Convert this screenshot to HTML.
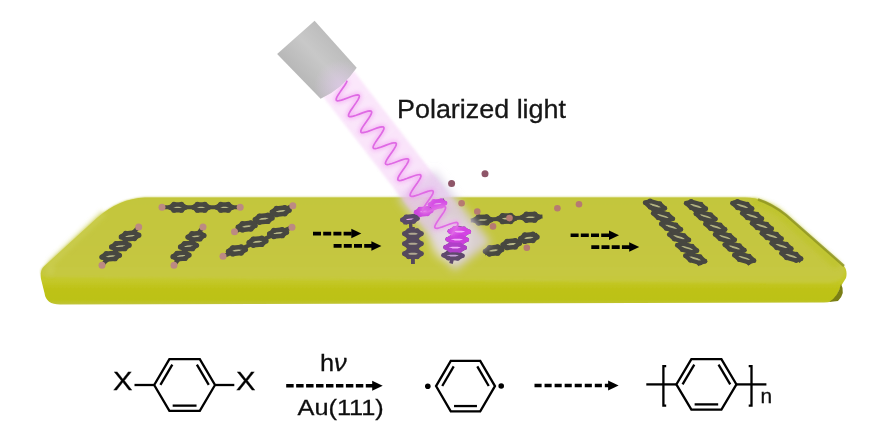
<!DOCTYPE html>
<html><head><meta charset="utf-8"><style>
html,body{margin:0;padding:0;background:#fff;width:886px;height:424px;overflow:hidden;font-family:"Liberation Sans",sans-serif;}
svg{display:block;}
</style></head><body>
<svg width="886" height="424" viewBox="0 0 886 424">
<defs>
<linearGradient id="slabTop" gradientUnits="userSpaceOnUse" x1="0" y1="197" x2="0" y2="283">
<stop offset="0" stop-color="#bdc03a"/>
<stop offset="0.03" stop-color="#c3c63e"/>
<stop offset="0.25" stop-color="#c4c63e"/>
<stop offset="0.65" stop-color="#c5c640"/>
<stop offset="0.85" stop-color="#c6c842"/>
<stop offset="1" stop-color="#c6c93a"/>
</linearGradient>
<linearGradient id="slabFront" gradientUnits="userSpaceOnUse" x1="0" y1="281" x2="0" y2="304">
<stop offset="0" stop-color="#c4c82a"/>
<stop offset="0.35" stop-color="#bec216"/>
<stop offset="0.8" stop-color="#bcc214"/>
<stop offset="1" stop-color="#c0c438"/>
</linearGradient>
<linearGradient id="cyl" gradientUnits="userSpaceOnUse" x1="298.9" y1="76.8" x2="335.6" y2="44.2">
<stop offset="0" stop-color="#b8b8b8"/>
<stop offset="0.55" stop-color="#c8c8c8"/>
<stop offset="1" stop-color="#bdbdbd"/>
</linearGradient>
<radialGradient id="cylGlow" gradientUnits="userSpaceOnUse" cx="340" cy="86" r="26">
<stop offset="0" stop-color="#e0c8ec" stop-opacity="0.7"/>
<stop offset="1" stop-color="#e0c8ec" stop-opacity="0"/>
</radialGradient>
<radialGradient id="glow" cx="0.5" cy="0.5" r="0.5">
<stop offset="0" stop-color="#e4d8ea" stop-opacity="0.95"/>
<stop offset="0.5" stop-color="#dccbe4" stop-opacity="0.6"/>
<stop offset="1" stop-color="#dccbe4" stop-opacity="0"/>
</radialGradient>
<filter id="blur1" x="-5%" y="-20%" width="110%" height="140%"><feGaussianBlur stdDeviation="1.2"/></filter>
<filter id="global" x="0" y="0" width="886" height="424" filterUnits="userSpaceOnUse"><feGaussianBlur stdDeviation="0.45"/></filter>
<filter id="blur1b" x="-10%" y="-20%" width="120%" height="140%"><feGaussianBlur stdDeviation="1.2"/></filter>
<filter id="soft" x="-5%" y="-5%" width="110%" height="110%"><feGaussianBlur stdDeviation="0.45"/></filter>
<filter id="blur2" x="-50%" y="-50%" width="200%" height="200%"><feGaussianBlur stdDeviation="2"/></filter>
<filter id="blur6" x="-50%" y="-50%" width="200%" height="200%"><feGaussianBlur stdDeviation="4.5"/></filter>
<linearGradient id="beamGrad" gradientUnits="userSpaceOnUse" x1="272" y1="0" x2="462" y2="0">
<stop offset="0" stop-color="#f6c4f6" stop-opacity="0.4"/>
<stop offset="0.75" stop-color="#f0c0f2" stop-opacity="0.45"/>
<stop offset="1" stop-color="#e8c0f0" stop-opacity="0"/>
</linearGradient>
</defs>
<rect width="886" height="424" fill="#ffffff"/>
<g filter="url(#global)">
<path d="M145,197.5 L745,197.5 Q766,197.5 786,215 L843,265 Q848,270 846,278 L841,286 L836,297 Q833,302.5 824,302.5 L60,304.5 Q46,304.5 44.5,293 L41,279 Q39.5,271 44,266.5 L97,218 Q119,198.5 145,197.5 Z" fill="url(#slabFront)"/>
<path d="M145,197.5 L745,197.5 Q766,197.5 786,215 L843,265 Q846,272 843,276 Q838,283 826,283 L52,277.5 Q42,277.5 41,273 Q40.5,269 44,266.5 L97,218 Q119,198.5 145,197.5 Z" fill="url(#slabTop)" filter="url(#blur1)"/>
<g filter="url(#blur2)" opacity="0.55"><path d="M752,202 Q772,205 784,217 L838,266" stroke="#bcc320" stroke-width="8" fill="none"/><path d="M104,213 L52,262 Q48,268 52,274" stroke="#cdd056" stroke-width="7" fill="none"/></g>
<path d="M758,199.5 Q772,204 786,215 L844,266" stroke="#8c9222" stroke-width="2.4" fill="none" opacity="0.8"/>
<path d="M841,284 Q838,297 829,302 L838,301 Q846,293 841,284Z" fill="#7a7e12"/>
<g filter="url(#soft)"><line x1="162.00" y1="207.30" x2="240.20" y2="207.30" stroke="#474741" stroke-width="4.05"/>
<path d="M170.20,207.30 L173.95,204.40 L181.45,204.40 L185.20,207.30 L181.45,210.20 L173.95,210.20Z" fill="#b8b888" stroke="#474741" stroke-width="4.5" stroke-linejoin="round"/><circle cx="170.20" cy="207.30" r="2.61" fill="#474741"/><circle cx="173.95" cy="204.40" r="2.61" fill="#474741"/><circle cx="181.45" cy="204.40" r="2.61" fill="#474741"/><circle cx="185.20" cy="207.30" r="2.61" fill="#474741"/><circle cx="181.45" cy="210.20" r="2.61" fill="#474741"/><circle cx="173.95" cy="210.20" r="2.61" fill="#474741"/>
<path d="M193.60,207.30 L197.35,204.40 L204.85,204.40 L208.60,207.30 L204.85,210.20 L197.35,210.20Z" fill="#b8b888" stroke="#474741" stroke-width="4.5" stroke-linejoin="round"/><circle cx="193.60" cy="207.30" r="2.61" fill="#474741"/><circle cx="197.35" cy="204.40" r="2.61" fill="#474741"/><circle cx="204.85" cy="204.40" r="2.61" fill="#474741"/><circle cx="208.60" cy="207.30" r="2.61" fill="#474741"/><circle cx="204.85" cy="210.20" r="2.61" fill="#474741"/><circle cx="197.35" cy="210.20" r="2.61" fill="#474741"/>
<path d="M217.00,207.30 L220.75,204.40 L228.25,204.40 L232.00,207.30 L228.25,210.20 L220.75,210.20Z" fill="#b8b888" stroke="#474741" stroke-width="4.5" stroke-linejoin="round"/><circle cx="217.00" cy="207.30" r="2.61" fill="#474741"/><circle cx="220.75" cy="204.40" r="2.61" fill="#474741"/><circle cx="228.25" cy="204.40" r="2.61" fill="#474741"/><circle cx="232.00" cy="207.30" r="2.61" fill="#474741"/><circle cx="228.25" cy="210.20" r="2.61" fill="#474741"/><circle cx="220.75" cy="210.20" r="2.61" fill="#474741"/>
<circle cx="162.00" cy="207.30" r="3.5" fill="#bc8a82"/>
<circle cx="240.20" cy="207.30" r="3.5" fill="#bc8a82"/>
<line x1="234.50" y1="231.80" x2="292.80" y2="205.70" stroke="#474741" stroke-width="4.05"/>
<path d="M238.15,227.21 L242.40,223.69 L250.90,222.84 L255.15,225.51 L250.90,229.04 L242.40,229.89Z" fill="#b8b888" stroke="#474741" stroke-width="4.5" stroke-linejoin="round"/><circle cx="238.15" cy="227.21" r="2.61" fill="#474741"/><circle cx="242.40" cy="223.69" r="2.61" fill="#474741"/><circle cx="250.90" cy="222.84" r="2.61" fill="#474741"/><circle cx="255.15" cy="225.51" r="2.61" fill="#474741"/><circle cx="250.90" cy="229.04" r="2.61" fill="#474741"/><circle cx="242.40" cy="229.89" r="2.61" fill="#474741"/>
<path d="M255.15,219.60 L259.40,216.08 L267.90,215.22 L272.15,217.90 L267.90,221.42 L259.40,222.28Z" fill="#b8b888" stroke="#474741" stroke-width="4.5" stroke-linejoin="round"/><circle cx="255.15" cy="219.60" r="2.61" fill="#474741"/><circle cx="259.40" cy="216.08" r="2.61" fill="#474741"/><circle cx="267.90" cy="215.22" r="2.61" fill="#474741"/><circle cx="272.15" cy="217.90" r="2.61" fill="#474741"/><circle cx="267.90" cy="221.42" r="2.61" fill="#474741"/><circle cx="259.40" cy="222.28" r="2.61" fill="#474741"/>
<path d="M272.15,211.99 L276.40,208.46 L284.90,207.61 L289.15,210.29 L284.90,213.81 L276.40,214.66Z" fill="#b8b888" stroke="#474741" stroke-width="4.5" stroke-linejoin="round"/><circle cx="272.15" cy="211.99" r="2.61" fill="#474741"/><circle cx="276.40" cy="208.46" r="2.61" fill="#474741"/><circle cx="284.90" cy="207.61" r="2.61" fill="#474741"/><circle cx="289.15" cy="210.29" r="2.61" fill="#474741"/><circle cx="284.90" cy="213.81" r="2.61" fill="#474741"/><circle cx="276.40" cy="214.66" r="2.61" fill="#474741"/>
<circle cx="234.50" cy="231.80" r="3.5" fill="#bc8a82"/>
<circle cx="292.80" cy="205.70" r="3.5" fill="#bc8a82"/>
<line x1="223.00" y1="256.30" x2="292.00" y2="227.20" stroke="#474741" stroke-width="4.05"/>
<path d="M228.46,251.26 L232.71,247.74 L241.21,246.89 L245.46,249.56 L241.21,253.09 L232.71,253.94Z" fill="#b8b888" stroke="#474741" stroke-width="4.5" stroke-linejoin="round"/><circle cx="228.46" cy="251.26" r="2.61" fill="#474741"/><circle cx="232.71" cy="247.74" r="2.61" fill="#474741"/><circle cx="241.21" cy="246.89" r="2.61" fill="#474741"/><circle cx="245.46" cy="249.56" r="2.61" fill="#474741"/><circle cx="241.21" cy="253.09" r="2.61" fill="#474741"/><circle cx="232.71" cy="253.94" r="2.61" fill="#474741"/>
<path d="M249.00,242.60 L253.25,239.08 L261.75,238.22 L266.00,240.90 L261.75,244.42 L253.25,245.28Z" fill="#b8b888" stroke="#474741" stroke-width="4.5" stroke-linejoin="round"/><circle cx="249.00" cy="242.60" r="2.61" fill="#474741"/><circle cx="253.25" cy="239.08" r="2.61" fill="#474741"/><circle cx="261.75" cy="238.22" r="2.61" fill="#474741"/><circle cx="266.00" cy="240.90" r="2.61" fill="#474741"/><circle cx="261.75" cy="244.42" r="2.61" fill="#474741"/><circle cx="253.25" cy="245.28" r="2.61" fill="#474741"/>
<path d="M269.54,233.94 L273.79,230.41 L282.29,229.56 L286.54,232.24 L282.29,235.76 L273.79,236.61Z" fill="#b8b888" stroke="#474741" stroke-width="4.5" stroke-linejoin="round"/><circle cx="269.54" cy="233.94" r="2.61" fill="#474741"/><circle cx="273.79" cy="230.41" r="2.61" fill="#474741"/><circle cx="282.29" cy="229.56" r="2.61" fill="#474741"/><circle cx="286.54" cy="232.24" r="2.61" fill="#474741"/><circle cx="282.29" cy="235.76" r="2.61" fill="#474741"/><circle cx="273.79" cy="236.61" r="2.61" fill="#474741"/>
<circle cx="223.00" cy="256.30" r="3.5" fill="#bc8a82"/>
<circle cx="292.00" cy="227.20" r="3.5" fill="#bc8a82"/>
<line x1="102.00" y1="265.20" x2="138.70" y2="227.00" stroke="#474741" stroke-width="4.05"/>
<path d="M101.91,257.06 L106.28,253.63 L115.03,252.75 L119.41,255.31 L115.03,258.75 L106.28,259.63Z" fill="#b8b888" stroke="#474741" stroke-width="4.5" stroke-linejoin="round"/><circle cx="101.91" cy="257.06" r="2.61" fill="#474741"/><circle cx="106.28" cy="253.63" r="2.61" fill="#474741"/><circle cx="115.03" cy="252.75" r="2.61" fill="#474741"/><circle cx="119.41" cy="255.31" r="2.61" fill="#474741"/><circle cx="115.03" cy="258.75" r="2.61" fill="#474741"/><circle cx="106.28" cy="259.63" r="2.61" fill="#474741"/>
<path d="M111.60,246.97 L115.97,243.54 L124.72,242.66 L129.10,245.22 L124.72,248.66 L115.97,249.54Z" fill="#b8b888" stroke="#474741" stroke-width="4.5" stroke-linejoin="round"/><circle cx="111.60" cy="246.97" r="2.61" fill="#474741"/><circle cx="115.97" cy="243.54" r="2.61" fill="#474741"/><circle cx="124.72" cy="242.66" r="2.61" fill="#474741"/><circle cx="129.10" cy="245.22" r="2.61" fill="#474741"/><circle cx="124.72" cy="248.66" r="2.61" fill="#474741"/><circle cx="115.97" cy="249.54" r="2.61" fill="#474741"/>
<path d="M121.29,236.89 L125.67,233.45 L134.42,232.57 L138.79,235.14 L134.42,238.57 L125.67,239.45Z" fill="#b8b888" stroke="#474741" stroke-width="4.5" stroke-linejoin="round"/><circle cx="121.29" cy="236.89" r="2.61" fill="#474741"/><circle cx="125.67" cy="233.45" r="2.61" fill="#474741"/><circle cx="134.42" cy="232.57" r="2.61" fill="#474741"/><circle cx="138.79" cy="235.14" r="2.61" fill="#474741"/><circle cx="134.42" cy="238.57" r="2.61" fill="#474741"/><circle cx="125.67" cy="239.45" r="2.61" fill="#474741"/>
<circle cx="102.00" cy="265.20" r="3.5" fill="#bc8a82"/>
<circle cx="138.70" cy="227.00" r="3.5" fill="#bc8a82"/>
<line x1="174.00" y1="265.20" x2="203.00" y2="227.00" stroke="#474741" stroke-width="4.05"/>
<path d="M173.05,256.71 L177.05,253.31 L185.05,252.51 L189.05,255.11 L185.05,258.51 L177.05,259.31Z" fill="#b8b888" stroke="#474741" stroke-width="4.5" stroke-linejoin="round"/><circle cx="173.05" cy="256.71" r="2.61" fill="#474741"/><circle cx="177.05" cy="253.31" r="2.61" fill="#474741"/><circle cx="185.05" cy="252.51" r="2.61" fill="#474741"/><circle cx="189.05" cy="255.11" r="2.61" fill="#474741"/><circle cx="185.05" cy="258.51" r="2.61" fill="#474741"/><circle cx="177.05" cy="259.31" r="2.61" fill="#474741"/>
<path d="M180.50,246.90 L184.50,243.50 L192.50,242.70 L196.50,245.30 L192.50,248.70 L184.50,249.50Z" fill="#b8b888" stroke="#474741" stroke-width="4.5" stroke-linejoin="round"/><circle cx="180.50" cy="246.90" r="2.61" fill="#474741"/><circle cx="184.50" cy="243.50" r="2.61" fill="#474741"/><circle cx="192.50" cy="242.70" r="2.61" fill="#474741"/><circle cx="196.50" cy="245.30" r="2.61" fill="#474741"/><circle cx="192.50" cy="248.70" r="2.61" fill="#474741"/><circle cx="184.50" cy="249.50" r="2.61" fill="#474741"/>
<path d="M187.95,237.09 L191.95,233.69 L199.95,232.89 L203.95,235.49 L199.95,238.89 L191.95,239.69Z" fill="#b8b888" stroke="#474741" stroke-width="4.5" stroke-linejoin="round"/><circle cx="187.95" cy="237.09" r="2.61" fill="#474741"/><circle cx="191.95" cy="233.69" r="2.61" fill="#474741"/><circle cx="199.95" cy="232.89" r="2.61" fill="#474741"/><circle cx="203.95" cy="235.49" r="2.61" fill="#474741"/><circle cx="199.95" cy="238.89" r="2.61" fill="#474741"/><circle cx="191.95" cy="239.69" r="2.61" fill="#474741"/>
<circle cx="174.00" cy="265.20" r="3.5" fill="#bc8a82"/>
<circle cx="203.00" cy="227.00" r="3.5" fill="#bc8a82"/>
<line x1="470.70" y1="220.60" x2="542.50" y2="216.50" stroke="#474741" stroke-width="4.05"/>
<path d="M474.42,220.06 L478.54,216.89 L486.79,216.75 L490.92,219.78 L486.79,222.95 L478.54,223.09Z" fill="#b8b888" stroke="#474741" stroke-width="4.5" stroke-linejoin="round"/><circle cx="474.42" cy="220.06" r="2.61" fill="#474741"/><circle cx="478.54" cy="216.89" r="2.61" fill="#474741"/><circle cx="486.79" cy="216.75" r="2.61" fill="#474741"/><circle cx="490.92" cy="219.78" r="2.61" fill="#474741"/><circle cx="486.79" cy="222.95" r="2.61" fill="#474741"/><circle cx="478.54" cy="223.09" r="2.61" fill="#474741"/>
<path d="M498.35,218.69 L502.48,215.52 L510.73,215.38 L514.85,218.41 L510.73,221.58 L502.48,221.72Z" fill="#b8b888" stroke="#474741" stroke-width="4.5" stroke-linejoin="round"/><circle cx="498.35" cy="218.69" r="2.61" fill="#474741"/><circle cx="502.48" cy="215.52" r="2.61" fill="#474741"/><circle cx="510.73" cy="215.38" r="2.61" fill="#474741"/><circle cx="514.85" cy="218.41" r="2.61" fill="#474741"/><circle cx="510.73" cy="221.58" r="2.61" fill="#474741"/><circle cx="502.48" cy="221.72" r="2.61" fill="#474741"/>
<path d="M522.28,217.32 L526.41,214.15 L534.66,214.01 L538.78,217.04 L534.66,220.21 L526.41,220.35Z" fill="#b8b888" stroke="#474741" stroke-width="4.5" stroke-linejoin="round"/><circle cx="522.28" cy="217.32" r="2.61" fill="#474741"/><circle cx="526.41" cy="214.15" r="2.61" fill="#474741"/><circle cx="534.66" cy="214.01" r="2.61" fill="#474741"/><circle cx="538.78" cy="217.04" r="2.61" fill="#474741"/><circle cx="534.66" cy="220.21" r="2.61" fill="#474741"/><circle cx="526.41" cy="220.35" r="2.61" fill="#474741"/>
<line x1="484.80" y1="253.60" x2="537.60" y2="234.60" stroke="#474741" stroke-width="4.05"/>
<path d="M485.35,251.26 L489.48,247.65 L497.73,246.82 L501.85,249.61 L497.73,253.22 L489.48,254.05Z" fill="#b8b888" stroke="#474741" stroke-width="4.5" stroke-linejoin="round"/><circle cx="485.35" cy="251.26" r="2.61" fill="#474741"/><circle cx="489.48" cy="247.65" r="2.61" fill="#474741"/><circle cx="497.73" cy="246.82" r="2.61" fill="#474741"/><circle cx="501.85" cy="249.61" r="2.61" fill="#474741"/><circle cx="497.73" cy="253.22" r="2.61" fill="#474741"/><circle cx="489.48" cy="254.05" r="2.61" fill="#474741"/>
<path d="M502.95,244.92 L507.08,241.31 L515.33,240.49 L519.45,243.28 L515.33,246.89 L507.08,247.71Z" fill="#b8b888" stroke="#474741" stroke-width="4.5" stroke-linejoin="round"/><circle cx="502.95" cy="244.92" r="2.61" fill="#474741"/><circle cx="507.08" cy="241.31" r="2.61" fill="#474741"/><circle cx="515.33" cy="240.49" r="2.61" fill="#474741"/><circle cx="519.45" cy="243.28" r="2.61" fill="#474741"/><circle cx="515.33" cy="246.89" r="2.61" fill="#474741"/><circle cx="507.08" cy="247.71" r="2.61" fill="#474741"/>
<path d="M520.55,238.59 L524.68,234.98 L532.93,234.15 L537.05,236.94 L532.93,240.55 L524.68,241.38Z" fill="#b8b888" stroke="#474741" stroke-width="4.5" stroke-linejoin="round"/><circle cx="520.55" cy="238.59" r="2.61" fill="#474741"/><circle cx="524.68" cy="234.98" r="2.61" fill="#474741"/><circle cx="532.93" cy="234.15" r="2.61" fill="#474741"/><circle cx="537.05" cy="236.94" r="2.61" fill="#474741"/><circle cx="532.93" cy="240.55" r="2.61" fill="#474741"/><circle cx="524.68" cy="241.38" r="2.61" fill="#474741"/>
<line x1="646.00" y1="201.50" x2="700.00" y2="265.00" stroke="#474741" stroke-width="3.78"/>
<path d="M645.25,202.77 L650.12,201.03 L659.88,203.77 L664.75,208.23 L659.88,209.97 L650.12,207.23Z" fill="#b2b282" stroke="#474741" stroke-width="4.2" stroke-linejoin="round"/><circle cx="645.25" cy="202.77" r="2.44" fill="#474741"/><circle cx="650.12" cy="201.03" r="2.44" fill="#474741"/><circle cx="659.88" cy="203.77" r="2.44" fill="#474741"/><circle cx="664.75" cy="208.23" r="2.44" fill="#474741"/><circle cx="659.88" cy="209.97" r="2.44" fill="#474741"/><circle cx="650.12" cy="207.23" r="2.44" fill="#474741"/>
<path d="M653.29,213.37 L658.16,211.63 L667.91,214.37 L672.79,218.83 L667.91,220.56 L658.16,217.83Z" fill="#b2b282" stroke="#474741" stroke-width="4.2" stroke-linejoin="round"/><circle cx="653.29" cy="213.37" r="2.44" fill="#474741"/><circle cx="658.16" cy="211.63" r="2.44" fill="#474741"/><circle cx="667.91" cy="214.37" r="2.44" fill="#474741"/><circle cx="672.79" cy="218.83" r="2.44" fill="#474741"/><circle cx="667.91" cy="220.56" r="2.44" fill="#474741"/><circle cx="658.16" cy="217.83" r="2.44" fill="#474741"/>
<path d="M661.33,223.97 L666.21,222.23 L675.96,224.97 L680.83,229.43 L675.96,231.16 L666.21,228.43Z" fill="#b2b282" stroke="#474741" stroke-width="4.2" stroke-linejoin="round"/><circle cx="661.33" cy="223.97" r="2.44" fill="#474741"/><circle cx="666.21" cy="222.23" r="2.44" fill="#474741"/><circle cx="675.96" cy="224.97" r="2.44" fill="#474741"/><circle cx="680.83" cy="229.43" r="2.44" fill="#474741"/><circle cx="675.96" cy="231.16" r="2.44" fill="#474741"/><circle cx="666.21" cy="228.43" r="2.44" fill="#474741"/>
<path d="M669.37,234.57 L674.25,232.84 L684.00,235.57 L688.87,240.03 L684.00,241.77 L674.25,239.03Z" fill="#b2b282" stroke="#474741" stroke-width="4.2" stroke-linejoin="round"/><circle cx="669.37" cy="234.57" r="2.44" fill="#474741"/><circle cx="674.25" cy="232.84" r="2.44" fill="#474741"/><circle cx="684.00" cy="235.57" r="2.44" fill="#474741"/><circle cx="688.87" cy="240.03" r="2.44" fill="#474741"/><circle cx="684.00" cy="241.77" r="2.44" fill="#474741"/><circle cx="674.25" cy="239.03" r="2.44" fill="#474741"/>
<path d="M677.41,245.17 L682.29,243.44 L692.04,246.17 L696.91,250.63 L692.04,252.37 L682.29,249.63Z" fill="#b2b282" stroke="#474741" stroke-width="4.2" stroke-linejoin="round"/><circle cx="677.41" cy="245.17" r="2.44" fill="#474741"/><circle cx="682.29" cy="243.44" r="2.44" fill="#474741"/><circle cx="692.04" cy="246.17" r="2.44" fill="#474741"/><circle cx="696.91" cy="250.63" r="2.44" fill="#474741"/><circle cx="692.04" cy="252.37" r="2.44" fill="#474741"/><circle cx="682.29" cy="249.63" r="2.44" fill="#474741"/>
<path d="M685.45,255.77 L690.33,254.03 L700.08,256.76 L704.95,261.23 L700.08,262.97 L690.33,260.24Z" fill="#b2b282" stroke="#474741" stroke-width="4.2" stroke-linejoin="round"/><circle cx="685.45" cy="255.77" r="2.44" fill="#474741"/><circle cx="690.33" cy="254.03" r="2.44" fill="#474741"/><circle cx="700.08" cy="256.76" r="2.44" fill="#474741"/><circle cx="704.95" cy="261.23" r="2.44" fill="#474741"/><circle cx="700.08" cy="262.97" r="2.44" fill="#474741"/><circle cx="690.33" cy="260.24" r="2.44" fill="#474741"/>
<line x1="686.60" y1="202.30" x2="749.80" y2="264.50" stroke="#474741" stroke-width="3.78"/>
<path d="M686.25,203.27 L691.12,201.53 L700.88,204.27 L705.75,208.73 L700.88,210.47 L691.12,207.73Z" fill="#b2b282" stroke="#474741" stroke-width="4.2" stroke-linejoin="round"/><circle cx="686.25" cy="203.27" r="2.44" fill="#474741"/><circle cx="691.12" cy="201.53" r="2.44" fill="#474741"/><circle cx="700.88" cy="204.27" r="2.44" fill="#474741"/><circle cx="705.75" cy="208.73" r="2.44" fill="#474741"/><circle cx="700.88" cy="210.47" r="2.44" fill="#474741"/><circle cx="691.12" cy="207.73" r="2.44" fill="#474741"/>
<path d="M695.89,213.65 L700.76,211.91 L710.51,214.65 L715.39,219.11 L710.51,220.84 L700.76,218.11Z" fill="#b2b282" stroke="#474741" stroke-width="4.2" stroke-linejoin="round"/><circle cx="695.89" cy="213.65" r="2.44" fill="#474741"/><circle cx="700.76" cy="211.91" r="2.44" fill="#474741"/><circle cx="710.51" cy="214.65" r="2.44" fill="#474741"/><circle cx="715.39" cy="219.11" r="2.44" fill="#474741"/><circle cx="710.51" cy="220.84" r="2.44" fill="#474741"/><circle cx="700.76" cy="218.11" r="2.44" fill="#474741"/>
<path d="M705.53,224.03 L710.40,222.29 L720.15,225.03 L725.03,229.49 L720.15,231.22 L710.40,228.49Z" fill="#b2b282" stroke="#474741" stroke-width="4.2" stroke-linejoin="round"/><circle cx="705.53" cy="224.03" r="2.44" fill="#474741"/><circle cx="710.40" cy="222.29" r="2.44" fill="#474741"/><circle cx="720.15" cy="225.03" r="2.44" fill="#474741"/><circle cx="725.03" cy="229.49" r="2.44" fill="#474741"/><circle cx="720.15" cy="231.22" r="2.44" fill="#474741"/><circle cx="710.40" cy="228.49" r="2.44" fill="#474741"/>
<path d="M715.17,234.41 L720.05,232.67 L729.80,235.41 L734.67,239.87 L729.80,241.60 L720.05,238.87Z" fill="#b2b282" stroke="#474741" stroke-width="4.2" stroke-linejoin="round"/><circle cx="715.17" cy="234.41" r="2.44" fill="#474741"/><circle cx="720.05" cy="232.67" r="2.44" fill="#474741"/><circle cx="729.80" cy="235.41" r="2.44" fill="#474741"/><circle cx="734.67" cy="239.87" r="2.44" fill="#474741"/><circle cx="729.80" cy="241.60" r="2.44" fill="#474741"/><circle cx="720.05" cy="238.87" r="2.44" fill="#474741"/>
<path d="M724.81,244.79 L729.69,243.05 L739.44,245.78 L744.31,250.25 L739.44,251.98 L729.69,249.25Z" fill="#b2b282" stroke="#474741" stroke-width="4.2" stroke-linejoin="round"/><circle cx="724.81" cy="244.79" r="2.44" fill="#474741"/><circle cx="729.69" cy="243.05" r="2.44" fill="#474741"/><circle cx="739.44" cy="245.78" r="2.44" fill="#474741"/><circle cx="744.31" cy="250.25" r="2.44" fill="#474741"/><circle cx="739.44" cy="251.98" r="2.44" fill="#474741"/><circle cx="729.69" cy="249.25" r="2.44" fill="#474741"/>
<path d="M734.45,255.17 L739.33,253.43 L749.08,256.16 L753.95,260.63 L749.08,262.37 L739.33,259.63Z" fill="#b2b282" stroke="#474741" stroke-width="4.2" stroke-linejoin="round"/><circle cx="734.45" cy="255.17" r="2.44" fill="#474741"/><circle cx="739.33" cy="253.43" r="2.44" fill="#474741"/><circle cx="749.08" cy="256.16" r="2.44" fill="#474741"/><circle cx="753.95" cy="260.63" r="2.44" fill="#474741"/><circle cx="749.08" cy="262.37" r="2.44" fill="#474741"/><circle cx="739.33" cy="259.63" r="2.44" fill="#474741"/>
<line x1="732.80" y1="201.30" x2="800.80" y2="261.70" stroke="#474741" stroke-width="3.78"/>
<path d="M732.55,203.27 L737.42,201.53 L747.17,204.27 L752.05,208.73 L747.17,210.47 L737.42,207.73Z" fill="#b2b282" stroke="#474741" stroke-width="4.2" stroke-linejoin="round"/><circle cx="732.55" cy="203.27" r="2.44" fill="#474741"/><circle cx="737.42" cy="201.53" r="2.44" fill="#474741"/><circle cx="747.17" cy="204.27" r="2.44" fill="#474741"/><circle cx="752.05" cy="208.73" r="2.44" fill="#474741"/><circle cx="747.17" cy="210.47" r="2.44" fill="#474741"/><circle cx="737.42" cy="207.73" r="2.44" fill="#474741"/>
<path d="M742.35,213.27 L747.22,211.53 L756.97,214.27 L761.85,218.73 L756.97,220.47 L747.22,217.73Z" fill="#b2b282" stroke="#474741" stroke-width="4.2" stroke-linejoin="round"/><circle cx="742.35" cy="213.27" r="2.44" fill="#474741"/><circle cx="747.22" cy="211.53" r="2.44" fill="#474741"/><circle cx="756.97" cy="214.27" r="2.44" fill="#474741"/><circle cx="761.85" cy="218.73" r="2.44" fill="#474741"/><circle cx="756.97" cy="220.47" r="2.44" fill="#474741"/><circle cx="747.22" cy="217.73" r="2.44" fill="#474741"/>
<path d="M752.15,223.27 L757.02,221.53 L766.77,224.27 L771.65,228.73 L766.77,230.47 L757.02,227.73Z" fill="#b2b282" stroke="#474741" stroke-width="4.2" stroke-linejoin="round"/><circle cx="752.15" cy="223.27" r="2.44" fill="#474741"/><circle cx="757.02" cy="221.53" r="2.44" fill="#474741"/><circle cx="766.77" cy="224.27" r="2.44" fill="#474741"/><circle cx="771.65" cy="228.73" r="2.44" fill="#474741"/><circle cx="766.77" cy="230.47" r="2.44" fill="#474741"/><circle cx="757.02" cy="227.73" r="2.44" fill="#474741"/>
<path d="M761.95,233.27 L766.82,231.53 L776.57,234.27 L781.45,238.73 L776.57,240.47 L766.82,237.73Z" fill="#b2b282" stroke="#474741" stroke-width="4.2" stroke-linejoin="round"/><circle cx="761.95" cy="233.27" r="2.44" fill="#474741"/><circle cx="766.82" cy="231.53" r="2.44" fill="#474741"/><circle cx="776.57" cy="234.27" r="2.44" fill="#474741"/><circle cx="781.45" cy="238.73" r="2.44" fill="#474741"/><circle cx="776.57" cy="240.47" r="2.44" fill="#474741"/><circle cx="766.82" cy="237.73" r="2.44" fill="#474741"/>
<path d="M771.75,243.27 L776.62,241.53 L786.38,244.27 L791.25,248.73 L786.38,250.47 L776.62,247.73Z" fill="#b2b282" stroke="#474741" stroke-width="4.2" stroke-linejoin="round"/><circle cx="771.75" cy="243.27" r="2.44" fill="#474741"/><circle cx="776.62" cy="241.53" r="2.44" fill="#474741"/><circle cx="786.38" cy="244.27" r="2.44" fill="#474741"/><circle cx="791.25" cy="248.73" r="2.44" fill="#474741"/><circle cx="786.38" cy="250.47" r="2.44" fill="#474741"/><circle cx="776.62" cy="247.73" r="2.44" fill="#474741"/>
<path d="M781.55,253.27 L786.42,251.53 L796.17,254.27 L801.05,258.73 L796.17,260.47 L786.42,257.74Z" fill="#b2b282" stroke="#474741" stroke-width="4.2" stroke-linejoin="round"/><circle cx="781.55" cy="253.27" r="2.44" fill="#474741"/><circle cx="786.42" cy="251.53" r="2.44" fill="#474741"/><circle cx="796.17" cy="254.27" r="2.44" fill="#474741"/><circle cx="801.05" cy="258.73" r="2.44" fill="#474741"/><circle cx="796.17" cy="260.47" r="2.44" fill="#474741"/><circle cx="786.42" cy="257.74" r="2.44" fill="#474741"/></g>
<line x1="313" y1="233.6" x2="352.3" y2="233.6" stroke="#000" stroke-width="3.6" stroke-dasharray="8 2.2"/><path d="M351.3,228.85 L361.3,233.6 L351.3,238.35Z" fill="#000"/>
<line x1="333.6" y1="245.9" x2="372.4" y2="245.9" stroke="#000" stroke-width="3.6" stroke-dasharray="8 2.2"/><path d="M371.4,241.15 L381.4,245.9 L371.4,250.65Z" fill="#000"/>
<line x1="570.6" y1="235.3" x2="610" y2="235.3" stroke="#000" stroke-width="3.6" stroke-dasharray="8 2.2"/><path d="M609,230.55 L619,235.3 L609,240.05Z" fill="#000"/>
<line x1="591.3" y1="247.1" x2="630.2" y2="247.1" stroke="#000" stroke-width="3.6" stroke-dasharray="8 2.2"/><path d="M629.2,242.35 L639.2,247.1 L629.2,251.85Z" fill="#000"/>
<g filter="url(#blur6)">
<g transform="rotate(52.3)"><rect x="400" y="-240" width="92" height="46" fill="#dcd0e6" opacity="0.85"/></g>
<ellipse cx="450" cy="240" rx="20" ry="22" fill="#ece2f0" opacity="0.6"/>
</g>
<g transform="rotate(52.3)">
<rect x="272" y="-236.5" width="190" height="40" fill="url(#beamGrad)" filter="url(#blur1b)"/>
</g>
<g><line x1="403.00" y1="223.00" x2="444.40" y2="200.00" stroke="#5a4a68" stroke-width="3.78"/>
<path d="M402.40,219.92 L406.15,216.84 L413.65,216.09 L417.40,218.42 L413.65,221.49 L406.15,222.24Z" fill="#e8a8f0" stroke="#5a4a68" stroke-width="4.2" stroke-linejoin="round"/><circle cx="402.40" cy="219.92" r="2.44" fill="#5a4a68"/><circle cx="406.15" cy="216.84" r="2.44" fill="#5a4a68"/><circle cx="413.65" cy="216.09" r="2.44" fill="#5a4a68"/><circle cx="417.40" cy="218.42" r="2.44" fill="#5a4a68"/><circle cx="413.65" cy="221.49" r="2.44" fill="#5a4a68"/><circle cx="406.15" cy="222.24" r="2.44" fill="#5a4a68"/>
<path d="M416.20,212.25 L419.95,209.18 L427.45,208.43 L431.20,210.75 L427.45,213.82 L419.95,214.57Z" fill="#e8a8f0" stroke="#cc44dc" stroke-width="4.2" stroke-linejoin="round"/><circle cx="416.20" cy="212.25" r="2.44" fill="#cc44dc"/><circle cx="419.95" cy="209.18" r="2.44" fill="#cc44dc"/><circle cx="427.45" cy="208.43" r="2.44" fill="#cc44dc"/><circle cx="431.20" cy="210.75" r="2.44" fill="#cc44dc"/><circle cx="427.45" cy="213.82" r="2.44" fill="#cc44dc"/><circle cx="419.95" cy="214.57" r="2.44" fill="#cc44dc"/>
<path d="M430.00,204.58 L433.75,201.51 L441.25,200.76 L445.00,203.08 L441.25,206.16 L433.75,206.91Z" fill="#e8a8f0" stroke="#d44ce4" stroke-width="4.2" stroke-linejoin="round"/><circle cx="430.00" cy="204.58" r="2.44" fill="#d44ce4"/><circle cx="433.75" cy="201.51" r="2.44" fill="#d44ce4"/><circle cx="441.25" cy="200.76" r="2.44" fill="#d44ce4"/><circle cx="445.00" cy="203.08" r="2.44" fill="#d44ce4"/><circle cx="441.25" cy="206.16" r="2.44" fill="#d44ce4"/><circle cx="433.75" cy="206.91" r="2.44" fill="#d44ce4"/>
<line x1="410.5" y1="222" x2="412.9" y2="264" stroke="#554a5c" stroke-width="3.4"/>
<line x1="412.90" y1="227.00" x2="412.90" y2="264.00" stroke="#554a5c" stroke-width="3.78"/>
<path d="M404.40,233.80 L408.65,230.70 L417.15,230.70 L421.40,233.80 L417.15,236.90 L408.65,236.90Z" fill="#b0a890" stroke="#554a5c" stroke-width="4.2" stroke-linejoin="round"/><circle cx="404.40" cy="233.80" r="2.44" fill="#554a5c"/><circle cx="408.65" cy="230.70" r="2.44" fill="#554a5c"/><circle cx="417.15" cy="230.70" r="2.44" fill="#554a5c"/><circle cx="421.40" cy="233.80" r="2.44" fill="#554a5c"/><circle cx="417.15" cy="236.90" r="2.44" fill="#554a5c"/><circle cx="408.65" cy="236.90" r="2.44" fill="#554a5c"/>
<path d="M404.40,243.80 L408.65,240.70 L417.15,240.70 L421.40,243.80 L417.15,246.90 L408.65,246.90Z" fill="#b0a890" stroke="#554a5c" stroke-width="4.2" stroke-linejoin="round"/><circle cx="404.40" cy="243.80" r="2.44" fill="#554a5c"/><circle cx="408.65" cy="240.70" r="2.44" fill="#554a5c"/><circle cx="417.15" cy="240.70" r="2.44" fill="#554a5c"/><circle cx="421.40" cy="243.80" r="2.44" fill="#554a5c"/><circle cx="417.15" cy="246.90" r="2.44" fill="#554a5c"/><circle cx="408.65" cy="246.90" r="2.44" fill="#554a5c"/>
<path d="M404.40,253.80 L408.65,250.70 L417.15,250.70 L421.40,253.80 L417.15,256.90 L408.65,256.90Z" fill="#b0a890" stroke="#554a5c" stroke-width="4.2" stroke-linejoin="round"/><circle cx="404.40" cy="253.80" r="2.44" fill="#554a5c"/><circle cx="408.65" cy="250.70" r="2.44" fill="#554a5c"/><circle cx="417.15" cy="250.70" r="2.44" fill="#554a5c"/><circle cx="421.40" cy="253.80" r="2.44" fill="#554a5c"/><circle cx="417.15" cy="256.90" r="2.44" fill="#554a5c"/><circle cx="408.65" cy="256.90" r="2.44" fill="#554a5c"/>
<line x1="460.00" y1="226.00" x2="451.00" y2="263.50" stroke="#5e4a6c" stroke-width="3.60"/>
<path d="M449.80,231.22 L454.55,228.56 L464.05,228.84 L468.80,231.78 L464.05,234.44 L454.55,234.16Z" fill="#c8a0d8" stroke="#5e4a6c" stroke-width="4" stroke-linejoin="round"/><circle cx="449.80" cy="231.22" r="2.32" fill="#5e4a6c"/><circle cx="454.55" cy="228.56" r="2.32" fill="#5e4a6c"/><circle cx="464.05" cy="228.84" r="2.32" fill="#5e4a6c"/><circle cx="468.80" cy="231.78" r="2.32" fill="#5e4a6c"/><circle cx="464.05" cy="234.44" r="2.32" fill="#5e4a6c"/><circle cx="454.55" cy="234.16" r="2.32" fill="#5e4a6c"/>
<path d="M447.70,239.22 L452.45,236.56 L461.95,236.84 L466.70,239.78 L461.95,242.44 L452.45,242.16Z" fill="#c8a0d8" stroke="#5e4a6c" stroke-width="4" stroke-linejoin="round"/><circle cx="447.70" cy="239.22" r="2.32" fill="#5e4a6c"/><circle cx="452.45" cy="236.56" r="2.32" fill="#5e4a6c"/><circle cx="461.95" cy="236.84" r="2.32" fill="#5e4a6c"/><circle cx="466.70" cy="239.78" r="2.32" fill="#5e4a6c"/><circle cx="461.95" cy="242.44" r="2.32" fill="#5e4a6c"/><circle cx="452.45" cy="242.16" r="2.32" fill="#5e4a6c"/>
<path d="M445.60,247.22 L450.35,244.56 L459.85,244.84 L464.60,247.78 L459.85,250.44 L450.35,250.16Z" fill="#c8a0d8" stroke="#5e4a6c" stroke-width="4" stroke-linejoin="round"/><circle cx="445.60" cy="247.22" r="2.32" fill="#5e4a6c"/><circle cx="450.35" cy="244.56" r="2.32" fill="#5e4a6c"/><circle cx="459.85" cy="244.84" r="2.32" fill="#5e4a6c"/><circle cx="464.60" cy="247.78" r="2.32" fill="#5e4a6c"/><circle cx="459.85" cy="250.44" r="2.32" fill="#5e4a6c"/><circle cx="450.35" cy="250.16" r="2.32" fill="#5e4a6c"/>
<path d="M443.50,255.22 L448.25,252.56 L457.75,252.84 L462.50,255.78 L457.75,258.44 L448.25,258.16Z" fill="#c8a0d8" stroke="#5e4a6c" stroke-width="4" stroke-linejoin="round"/><circle cx="443.50" cy="255.22" r="2.32" fill="#5e4a6c"/><circle cx="448.25" cy="252.56" r="2.32" fill="#5e4a6c"/><circle cx="457.75" cy="252.84" r="2.32" fill="#5e4a6c"/><circle cx="462.50" cy="255.78" r="2.32" fill="#5e4a6c"/><circle cx="457.75" cy="258.44" r="2.32" fill="#5e4a6c"/><circle cx="448.25" cy="258.16" r="2.32" fill="#5e4a6c"/>
<path d="M449.80,231.22 L454.55,228.56 L464.05,228.84 L468.80,231.78 L464.05,234.44 L454.55,234.16Z" fill="#f4b0fa" stroke="#d444e4" stroke-width="4" stroke-linejoin="round"/><circle cx="449.80" cy="231.22" r="2.32" fill="#d444e4"/><circle cx="454.55" cy="228.56" r="2.32" fill="#d444e4"/><circle cx="464.05" cy="228.84" r="2.32" fill="#d444e4"/><circle cx="468.80" cy="231.78" r="2.32" fill="#d444e4"/><circle cx="464.05" cy="234.44" r="2.32" fill="#d444e4"/><circle cx="454.55" cy="234.16" r="2.32" fill="#d444e4"/><path d="M447.70,239.22 L452.45,236.56 L461.95,236.84 L466.70,239.78 L461.95,242.44 L452.45,242.16Z" fill="#f4b0fa" stroke="#cc40dc" stroke-width="4" stroke-linejoin="round"/><circle cx="447.70" cy="239.22" r="2.32" fill="#cc40dc"/><circle cx="452.45" cy="236.56" r="2.32" fill="#cc40dc"/><circle cx="461.95" cy="236.84" r="2.32" fill="#cc40dc"/><circle cx="466.70" cy="239.78" r="2.32" fill="#cc40dc"/><circle cx="461.95" cy="242.44" r="2.32" fill="#cc40dc"/><circle cx="452.45" cy="242.16" r="2.32" fill="#cc40dc"/><path d="M445.60,247.22 L450.35,244.56 L459.85,244.84 L464.60,247.78 L459.85,250.44 L450.35,250.16Z" fill="#f4b0fa" stroke="#b040c8" stroke-width="4" stroke-linejoin="round"/><circle cx="445.60" cy="247.22" r="2.32" fill="#b040c8"/><circle cx="450.35" cy="244.56" r="2.32" fill="#b040c8"/><circle cx="459.85" cy="244.84" r="2.32" fill="#b040c8"/><circle cx="464.60" cy="247.78" r="2.32" fill="#b040c8"/><circle cx="459.85" cy="250.44" r="2.32" fill="#b040c8"/><circle cx="450.35" cy="250.16" r="2.32" fill="#b040c8"/></g>
<g transform="rotate(52.3)">
<polyline points="276.00,-225.27 277.00,-223.78 278.00,-221.47 279.00,-218.56 280.00,-215.34 281.00,-212.12 282.00,-209.20 283.00,-206.87 284.00,-205.36 285.00,-204.80 286.00,-205.26 287.00,-206.68 288.00,-208.94 289.00,-211.81 290.00,-215.01 291.00,-218.25 292.00,-221.20 293.00,-223.58 294.00,-225.16 295.00,-225.79 296.00,-225.41 297.00,-224.06 298.00,-221.86 299.00,-219.02 300.00,-215.83 301.00,-212.59 302.00,-209.61 303.00,-207.18 304.00,-205.53 305.00,-204.82 306.00,-205.13 307.00,-206.41 308.00,-208.55 309.00,-211.35 310.00,-214.52 311.00,-217.77 312.00,-220.78 313.00,-223.27 314.00,-224.98 315.00,-225.76 316.00,-225.53 317.00,-224.32 318.00,-222.23 319.00,-219.48 320.00,-216.32 321.00,-213.07 322.00,-210.03 323.00,-207.50 324.00,-205.72 325.00,-204.86 326.00,-205.01 327.00,-206.16 328.00,-208.19 329.00,-210.90 330.00,-214.03 331.00,-217.29 332.00,-220.36 333.00,-222.94 334.00,-224.78 335.00,-225.71 336.00,-225.63 337.00,-224.56 338.00,-222.59 339.00,-219.92 340.00,-216.81 341.00,-213.55 342.00,-210.46 343.00,-207.83 344.00,-205.93 345.00,-204.93 346.00,-204.93 347.00,-205.93 348.00,-207.83 349.00,-210.46 350.00,-213.55 351.00,-216.81 352.00,-219.92 353.00,-222.59 354.00,-224.56 355.00,-225.63 356.00,-225.71 357.00,-224.78 358.00,-222.94 359.00,-220.36 360.00,-217.29 361.00,-214.03 362.00,-210.90 363.00,-208.19 364.00,-206.16 365.00,-205.01 366.00,-204.86 367.00,-205.72 368.00,-207.50 369.00,-210.03 370.00,-213.07 371.00,-216.32 372.00,-219.48 373.00,-222.23 374.00,-224.32 375.00,-225.53 376.00,-225.76 377.00,-224.98 378.00,-223.27 379.00,-220.78 380.00,-217.77 381.00,-214.52 382.00,-211.35 383.00,-208.55 384.00,-206.41 385.00,-205.13 386.00,-204.82 387.00,-205.53 388.00,-207.18 389.00,-209.61 390.00,-212.59 391.00,-215.83 392.00,-219.02 393.00,-221.86 394.00,-224.06 395.00,-225.41 396.00,-225.79 397.00,-225.16 398.00,-223.58 399.00,-221.20 400.00,-218.25 401.00,-215.01 402.00,-211.81 403.00,-208.94 404.00,-206.68 405.00,-205.26 406.00,-204.80 407.00,-205.36 408.00,-206.87 409.00,-209.20 410.00,-212.12 411.00,-215.34 412.00,-218.56 413.00,-221.47 414.00,-223.78 415.00,-225.27 416.00,-225.80 417.00,-225.32 418.00,-223.87 419.00,-221.60 420.00,-218.72 421.00,-215.50 422.00,-212.27 423.00,-209.34 424.00,-206.97 425.00,-205.41 426.00,-204.81 427.00,-205.21 428.00,-206.59 429.00,-208.81 430.00,-211.65 431.00,-214.85 432.00,-218.09 433.00,-221.06 434.00,-223.48 435.00,-225.10 436.00,-225.78 437.00,-225.45 438.00,-224.15 439.00,-221.98 440.00,-219.18 441.00,-216.00 442.00,-212.75 443.00,-209.75 444.00,-207.28 445.00,-205.59 446.00,-204.83 447.00,-205.09 448.00,-206.32 449.00,-208.43 450.00,-211.20 451.00,-214.36 452.00,-217.61 453.00,-220.64 454.00,-223.16 455.00,-224.92 456.00,-225.75 457.00,-225.57 458.00,-224.40 459.00,-222.35 460.00,-219.63 461.00,-216.48 462.00,-213.23" fill="none" stroke="#f090f0" stroke-width="5" opacity="0.5" filter="url(#blur2)"/>
<polyline points="276.00,-225.27 277.00,-223.78 278.00,-221.47 279.00,-218.56 280.00,-215.34 281.00,-212.12 282.00,-209.20 283.00,-206.87 284.00,-205.36 285.00,-204.80 286.00,-205.26 287.00,-206.68 288.00,-208.94 289.00,-211.81 290.00,-215.01 291.00,-218.25 292.00,-221.20 293.00,-223.58 294.00,-225.16 295.00,-225.79 296.00,-225.41 297.00,-224.06 298.00,-221.86 299.00,-219.02 300.00,-215.83 301.00,-212.59 302.00,-209.61 303.00,-207.18 304.00,-205.53 305.00,-204.82 306.00,-205.13 307.00,-206.41 308.00,-208.55 309.00,-211.35 310.00,-214.52 311.00,-217.77 312.00,-220.78 313.00,-223.27 314.00,-224.98 315.00,-225.76 316.00,-225.53 317.00,-224.32 318.00,-222.23 319.00,-219.48 320.00,-216.32 321.00,-213.07 322.00,-210.03 323.00,-207.50 324.00,-205.72 325.00,-204.86 326.00,-205.01 327.00,-206.16 328.00,-208.19 329.00,-210.90 330.00,-214.03 331.00,-217.29 332.00,-220.36 333.00,-222.94 334.00,-224.78 335.00,-225.71 336.00,-225.63 337.00,-224.56 338.00,-222.59 339.00,-219.92 340.00,-216.81 341.00,-213.55 342.00,-210.46 343.00,-207.83 344.00,-205.93 345.00,-204.93 346.00,-204.93 347.00,-205.93 348.00,-207.83 349.00,-210.46 350.00,-213.55 351.00,-216.81 352.00,-219.92 353.00,-222.59 354.00,-224.56 355.00,-225.63 356.00,-225.71 357.00,-224.78 358.00,-222.94 359.00,-220.36 360.00,-217.29 361.00,-214.03 362.00,-210.90 363.00,-208.19 364.00,-206.16 365.00,-205.01 366.00,-204.86 367.00,-205.72 368.00,-207.50 369.00,-210.03 370.00,-213.07 371.00,-216.32 372.00,-219.48 373.00,-222.23 374.00,-224.32 375.00,-225.53 376.00,-225.76 377.00,-224.98 378.00,-223.27 379.00,-220.78 380.00,-217.77 381.00,-214.52 382.00,-211.35 383.00,-208.55 384.00,-206.41 385.00,-205.13 386.00,-204.82 387.00,-205.53 388.00,-207.18 389.00,-209.61 390.00,-212.59 391.00,-215.83 392.00,-219.02 393.00,-221.86 394.00,-224.06 395.00,-225.41 396.00,-225.79 397.00,-225.16 398.00,-223.58 399.00,-221.20 400.00,-218.25 401.00,-215.01 402.00,-211.81 403.00,-208.94 404.00,-206.68 405.00,-205.26 406.00,-204.80 407.00,-205.36 408.00,-206.87 409.00,-209.20 410.00,-212.12 411.00,-215.34 412.00,-218.56 413.00,-221.47 414.00,-223.78 415.00,-225.27 416.00,-225.80 417.00,-225.32 418.00,-223.87 419.00,-221.60 420.00,-218.72 421.00,-215.50 422.00,-212.27 423.00,-209.34 424.00,-206.97 425.00,-205.41 426.00,-204.81 427.00,-205.21 428.00,-206.59 429.00,-208.81 430.00,-211.65 431.00,-214.85 432.00,-218.09 433.00,-221.06 434.00,-223.48 435.00,-225.10 436.00,-225.78 437.00,-225.45 438.00,-224.15 439.00,-221.98 440.00,-219.18 441.00,-216.00 442.00,-212.75 443.00,-209.75 444.00,-207.28 445.00,-205.59 446.00,-204.83 447.00,-205.09 448.00,-206.32 449.00,-208.43 450.00,-211.20 451.00,-214.36 452.00,-217.61 453.00,-220.64 454.00,-223.16 455.00,-224.92 456.00,-225.75 457.00,-225.57 458.00,-224.40 459.00,-222.35 460.00,-219.63 461.00,-216.48 462.00,-213.23" fill="none" stroke="#df6ae4" stroke-width="1.7"/>
</g>
<path d="M314.6,20.7 L356.7,67.7 Q343,88 320.6,98.8 L277.1,53.9 Z" fill="url(#cyl)"/>
<path d="M314.6,20.7 L356.7,67.7 Q343,88 320.6,98.8 L277.1,53.9 Z" fill="url(#cylGlow)"/>
<circle cx="461.6" cy="203.3" r="3.3" fill="#b67a72"/>
<circle cx="477.3" cy="211.5" r="3.3" fill="#b67a72"/>
<circle cx="557.4" cy="208.2" r="3.3" fill="#b67a72"/>
<circle cx="579" cy="204.2" r="3.3" fill="#b67a72"/>
<circle cx="509.5" cy="218.1" r="3.3" fill="#b67a72"/>
<circle cx="493" cy="226.4" r="3.3" fill="#b67a72"/>
<circle cx="526.8" cy="247.8" r="3.3" fill="#b67a72"/>
<circle cx="451.6" cy="183.4" r="3.5" fill="#8e5468"/>
<circle cx="485" cy="173.7" r="3.5" fill="#8e5468"/>
<text x="397" y="117.6" font-family="Liberation Sans" font-size="26.5" fill="#151515" textLength="169" lengthAdjust="spacingAndGlyphs" stroke="#151515" stroke-width="0.3">Polarized light</text>
<path d="M215.00,385.00 L199.80,410.93 L169.40,410.93 L154.20,385.00 L169.40,359.07 L199.80,359.07Z" fill="none" stroke="#000" stroke-width="2.3" stroke-linejoin="miter"/><line x1="160.42" y1="384.87" x2="172.32" y2="364.56" stroke="#000" stroke-width="2.3"/><line x1="196.88" y1="364.56" x2="208.78" y2="384.87" stroke="#000" stroke-width="2.3"/><line x1="196.54" y1="405.63" x2="172.66" y2="405.63" stroke="#000" stroke-width="2.3"/>
<line x1="134.5" y1="385" x2="154.2" y2="385" stroke="#000" stroke-width="2.3"/>
<line x1="215" y1="385" x2="234.3" y2="385" stroke="#000" stroke-width="2.3"/>
<text x="113" y="390.3" font-family="Liberation Sans" font-size="26" fill="#000" textLength="19.5" lengthAdjust="spacingAndGlyphs" stroke="#151515" stroke-width="0.3">X</text>
<text x="236" y="390.3" font-family="Liberation Sans" font-size="26" fill="#000" textLength="19.5" lengthAdjust="spacingAndGlyphs" stroke="#151515" stroke-width="0.3">X</text>
<line x1="286.2" y1="385.7" x2="373.2" y2="385.7" stroke="#000" stroke-width="3.5" stroke-dasharray="7.45 2.5"/><path d="M372.2,380.7 L382.7,385.7 L372.2,390.7Z" fill="#000"/>
<text x="320" y="371.2" font-family="Liberation Sans" font-size="24" fill="#111" textLength="26.8" lengthAdjust="spacingAndGlyphs" stroke="#151515" stroke-width="0.3">h<tspan font-style="italic">ν</tspan></text>
<text x="297.5" y="414.9" font-family="Liberation Sans" font-size="22.5" fill="#111" textLength="86.3" lengthAdjust="spacingAndGlyphs" stroke="#151515" stroke-width="0.3">Au(111)</text>
<path d="M494.95,386.10 L480.23,411.35 L450.77,411.35 L436.05,386.10 L450.77,360.85 L480.23,360.85Z" fill="none" stroke="#000" stroke-width="2.3" stroke-linejoin="miter"/><line x1="442.27" y1="385.96" x2="453.71" y2="366.34" stroke="#000" stroke-width="2.3"/><line x1="477.29" y1="366.34" x2="488.73" y2="385.96" stroke="#000" stroke-width="2.3"/><line x1="476.97" y1="406.05" x2="454.03" y2="406.05" stroke="#000" stroke-width="2.3"/>
<circle cx="427.8" cy="386.3" r="2.8" fill="#000"/><circle cx="501.2" cy="386" r="2.8" fill="#000"/>
<line x1="534.5" y1="385.5" x2="609.1" y2="385.5" stroke="#000" stroke-width="3.5" stroke-dasharray="7.1 2.95"/><path d="M608.1,380.5 L618.6,385.5 L608.1,390.5Z" fill="#000"/>
<path d="M736.45,384.40 L721.42,409.69 L691.38,409.69 L676.35,384.40 L691.38,359.11 L721.42,359.11Z" fill="none" stroke="#000" stroke-width="2.3" stroke-linejoin="miter"/><line x1="682.57" y1="384.31" x2="694.27" y2="364.61" stroke="#000" stroke-width="2.3"/><line x1="718.53" y1="364.61" x2="730.23" y2="384.31" stroke="#000" stroke-width="2.3"/><line x1="718.17" y1="404.39" x2="694.63" y2="404.39" stroke="#000" stroke-width="2.3"/>
<line x1="646.3" y1="384.4" x2="676.3" y2="384.4" stroke="#000" stroke-width="2.3"/>
<line x1="736.4" y1="384.4" x2="766.4" y2="384.4" stroke="#000" stroke-width="2.3"/>
<path d="M666.2,366.2 L663.4,366.2 L663.4,405.7 L666.2,405.7" fill="none" stroke="#000" stroke-width="2.3"/>
<path d="M748.7,366.2 L751.5,366.2 L751.5,405.7 L748.7,405.7" fill="none" stroke="#000" stroke-width="2.3"/>
<text x="760.6" y="403.4" font-family="Liberation Sans" font-size="20" fill="#111" textLength="11.6" lengthAdjust="spacingAndGlyphs" stroke="#151515" stroke-width="0.3">n</text>
</g>
</svg>
</body></html>
